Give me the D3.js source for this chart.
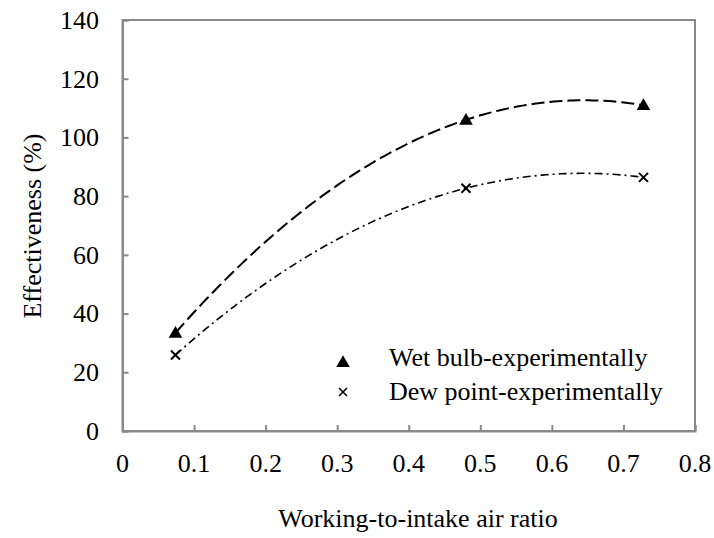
<!DOCTYPE html>
<html>
<head>
<meta charset="utf-8">
<script src="https://cdn.jsdelivr.net/npm/d3@7"></script>
<style>
  html, body { margin: 0; padding: 0; background: #fff; }
  svg { display: block; }
</style>
</head>
<body>
<svg id="chart" width="714" height="538"></svg>
<script>
// Measured effectiveness against working-to-intake air ratio
const ratios = [0.074, 0.48, 0.728];
const wetBulb = [33.4, 106, 111];
const dewPoint = [25.9, 82.7, 86.4];
const seriesNames = ["Wet bulb-experimentally", "Dew point-experimentally"];
const xTicks = [0, 0.1, 0.2, 0.3, 0.4, 0.5, 0.6, 0.7, 0.8];
const yTicks = [0, 20, 40, 60, 80, 100, 120, 140];

const svg = d3.select("#chart")
  .attr("font-family", "'Liberation Serif', 'Times New Roman', Times, 'DejaVu Serif', serif");
const plotLeft = 122.5, plotRight = 695, plotTop = 20, plotBottom = 431;
const axisColor = "#898989";
const fontSize = 26;

const x = d3.scaleLinear().domain([0, 0.8]).range([plotLeft, plotRight]);
const y = d3.scaleLinear().domain([0, 140]).range([plotBottom, plotTop]);

// Frame around the plot area
svg.append("rect")
  .attr("x", plotLeft).attr("y", plotTop)
  .attr("width", plotRight - plotLeft).attr("height", plotBottom - plotTop)
  .attr("fill", "none").attr("stroke", axisColor).attr("stroke-width", 2);

// Axes with inward ticks
const yAxis = svg.append("g").attr("transform", `translate(${plotLeft},0)`)
  .call(d3.axisRight(y).tickValues(yTicks).tickSize(6).tickFormat(""));
const xAxis = svg.append("g").attr("transform", `translate(0,${plotBottom})`)
  .call(d3.axisTop(x).tickValues(xTicks).tickSize(6).tickFormat(""));
[xAxis, yAxis].forEach(g => {
  g.attr("font-family", null);
  g.select(".domain").attr("stroke", axisColor).attr("stroke-width", 2);
  g.selectAll(".tick line").attr("stroke", axisColor).attr("stroke-width", 2);
});

// Tick labels
svg.append("g").selectAll("text").data(yTicks).join("text")
  .attr("x", 99).attr("y", d => y(d))
  .attr("dy", "0.34em")
  .attr("text-anchor", "end")
  .attr("font-size", fontSize)
  .text(d => d);
svg.append("g").selectAll("text").data(xTicks).join("text")
  .attr("x", d => x(d)).attr("y", 472)
  .attr("text-anchor", "middle")
  .attr("font-size", fontSize)
  .text(d => d);

// Axis titles
svg.append("text")
  .attr("x", 418).attr("y", 527)
  .attr("text-anchor", "middle")
  .attr("font-size", fontSize)
  .text("Working-to-intake air ratio");
svg.append("text")
  .attr("transform", `translate(41,226) rotate(-90)`)
  .attr("text-anchor", "middle")
  .attr("font-size", fontSize)
  .text("Effectiveness (%)");

// Second-order trendline through the measured points (Lagrange form)
function quadTrend(xs, ys) {
  return t => {
    let s = 0;
    for (let i = 0; i < xs.length; i++) {
      let term = ys[i];
      for (let j = 0; j < xs.length; j++) {
        if (j !== i) term *= (t - xs[j]) / (xs[i] - xs[j]);
      }
      s += term;
    }
    return s;
  };
}
const xsSample = d3.range(0, 121).map(i => ratios[0] + (ratios[2] - ratios[0]) * i / 120);
const line = d3.line().x(d => x(d[0])).y(d => y(d[1]));

const fWet = quadTrend(ratios, wetBulb);
const fDew = quadTrend(ratios, dewPoint);

svg.append("path")
  .datum(xsSample.map(t => [t, fWet(t)]))
  .attr("d", line)
  .attr("fill", "none").attr("stroke", "#000").attr("stroke-width", 2)
  .attr("stroke-dasharray", "13,5");
svg.append("path")
  .datum(xsSample.map(t => [t, fDew(t)]))
  .attr("d", line)
  .attr("fill", "none").attr("stroke", "#000").attr("stroke-width", 1.6)
  .attr("stroke-dasharray", "8,4,2,4");

// Markers
const triangle = d3.symbol().type(d3.symbolTriangle).size(80);
function drawTriangle(g, cx, cy) {
  g.append("path").attr("d", triangle())
    .attr("transform", `translate(${cx},${cy + 1})`)
    .attr("fill", "#000");
}
function drawCross(g, cx, cy, r, w) {
  g.append("path")
    .attr("d", `M${cx - r},${cy - r}L${cx + r},${cy + r}M${cx - r},${cy + r}L${cx + r},${cy - r}`)
    .attr("stroke", "#000").attr("stroke-width", w).attr("fill", "none");
}
const marks = svg.append("g");
ratios.forEach((r, i) => drawTriangle(marks, x(r), y(wetBulb[i])));
ratios.forEach((r, i) => drawCross(marks, x(r), y(dewPoint[i]), 4.5, 2));

// Legend
const legend = svg.append("g");
drawTriangle(legend, 343, 362);
drawCross(legend, 343, 392, 4, 1.6);
legend.selectAll("text").data(seriesNames).join("text")
  .attr("x", 389).attr("y", (d, i) => 366 + i * 34)
  .attr("font-size", fontSize)
  .text(d => d);
</script>
</body>
</html>
